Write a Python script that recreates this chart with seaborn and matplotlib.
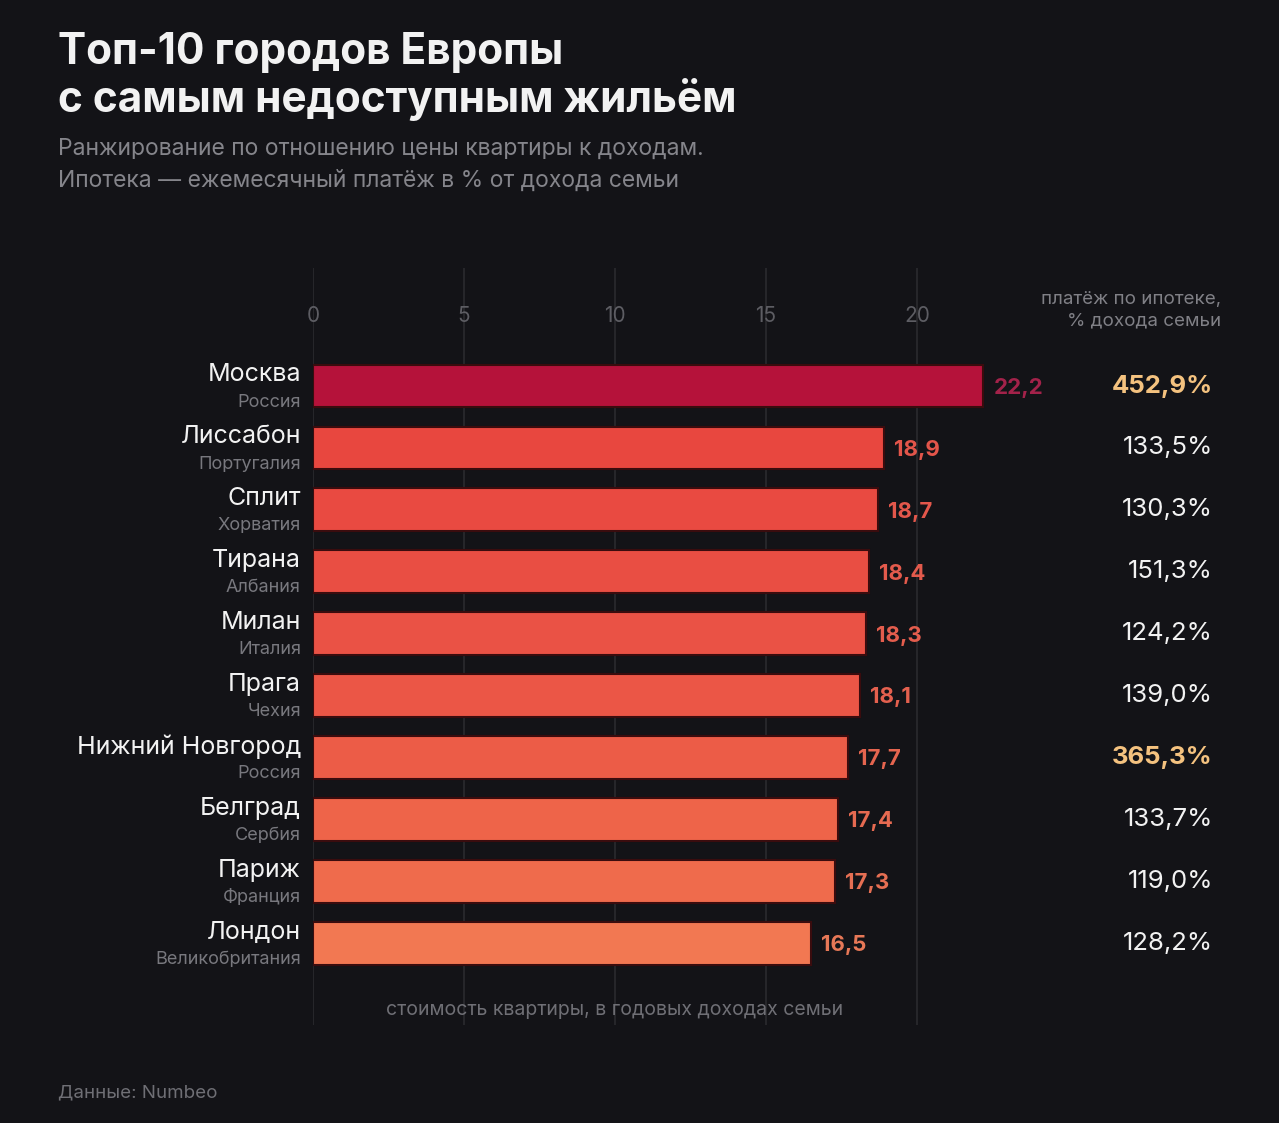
import pandas as pd
import matplotlib.pyplot as plt
import seaborn as sns

cities = ["Москва", "Лиссабон", "Сплит", "Тирана", "Милан", "Прага",
          "Нижний Новгород", "Белград", "Париж", "Лондон"]
countries = ["Россия", "Португалия", "Хорватия", "Албания", "Италия", "Чехия",
             "Россия", "Сербия", "Франция", "Великобритания"]
price_to_income = [22.2, 18.9, 18.7, 18.4, 18.3, 18.1, 17.7, 17.4, 17.3, 16.5]
mortgage_pct = [452.9, 133.5, 130.3, 151.3, 124.2, 139.0, 365.3, 133.7, 119.0, 128.2]
bar_colors = ["#b5123a", "#e8473f", "#e94a41", "#e94e43", "#ea5245",
              "#eb5646", "#ec5c47", "#ee6449", "#ef6b4c", "#f27852"]
label_colors = ["#a3224a", "#e3554a", "#e3574b", "#e35a4c", "#e45d4d",
                "#e4604e", "#e5654f", "#e66a51", "#e66f53", "#e77857"]
highlight = ["Москва", "Нижний Новгород"]

BG = "#131317"
sns.set_theme(style="dark", rc={"axes.facecolor": BG, "figure.facecolor": BG})
plt.rcParams["font.family"] = ["Inter", "DejaVu Sans"]

df = pd.DataFrame({"city": cities, "country": countries,
                   "value": price_to_income, "mortgage": mortgage_pct})

fig = plt.figure(figsize=(12.79, 11.23), dpi=100)
ax = fig.add_axes([313 / 1279, 1 - 1025 / 1123, 755 / 1279, 757 / 1123])

sns.barplot(data=df, x="value", y="city", hue="city", palette=bar_colors,
            saturation=1, legend=False, width=0.69, edgecolor="#3a0c0e",
            linewidth=1.5, zorder=3, ax=ax)

ax.set_xlim(0, 25)
ax.set_ylim(10.32, -1.906)
ax.set_xticks([0, 5, 10, 15, 20])
ax.set_xticklabels([])
ax.set_yticks([])
ax.tick_params(length=0)
ax.grid(axis="x", color="#2a2a2f", linewidth=1.2, zorder=0)
ax.grid(axis="y", visible=False)
for s in ax.spines.values():
    s.set_visible(False)
ax.set_xlabel("")
ax.set_ylabel("")

for t in [0, 5, 10, 15, 20]:
    ax.text(t, -1.13, str(t), ha="center", va="center", fontsize=15, color="#5d5d63")

yt = ax.get_yaxis_transform()
for i, row in df.iterrows():
    ax.text(-0.016, i - 0.18, row["city"], transform=yt, ha="right", va="center",
            fontsize=18, color="#f2f2f2")
    ax.text(-0.016, i + 0.26, row["country"], transform=yt, ha="right", va="center",
            fontsize=13, color="#78787e")
    ax.text(row["value"] + 0.33, i + 0.03, f"{row['value']:.1f}".replace(".", ","),
            ha="left", va="center", fontsize=16, fontweight="bold", color=label_colors[i])
    hl = row["city"] in highlight
    ax.text(1.192, i + 0.0, f"{row['mortgage']:.1f}%".replace(".", ","), transform=yt,
            ha="right", va="center", fontsize=18.5,
            fontweight="bold" if hl else "normal",
            color="#f4c27f" if hl else "#f2f2f2")

ax.text(1.2026, -1.22, "платёж по ипотеке,\n% дохода семьи", transform=yt,
        ha="right", va="center", multialignment="right", fontsize=13.5,
        color="#808086", linespacing=1.35)
ax.text(10, 10.08, "стоимость квартиры, в годовых доходах семьи", ha="center",
        va="center", fontsize=14, color="#6f6f75")

fig.text(58 / 1279, 1 - 64 / 1123, "Топ-10 городов Европы", ha="left", va="baseline",
         fontsize=30.5, fontweight="bold", color="#f2f2f2")
fig.text(58 / 1279, 1 - 112 / 1123, "с самым недоступным жильём", ha="left", va="baseline",
         fontsize=30.5, fontweight="bold", color="#f2f2f2")
fig.text(58 / 1279, 1 - 155 / 1123, "Ранжирование по отношению цены квартиры к доходам.",
         ha="left", va="baseline", fontsize=16.5, color="#85858b")
fig.text(58 / 1279, 1 - 187 / 1123, "Ипотека — ежемесячный платёж в % от дохода семьи",
         ha="left", va="baseline", fontsize=16.5, color="#85858b")
fig.text(58 / 1279, 1 - 1097 / 1123, "Данные: Numbeo", ha="left", va="baseline",
         fontsize=13.5, color="#6f6f75")

fig.savefig("out.png", dpi=100, facecolor=BG)
